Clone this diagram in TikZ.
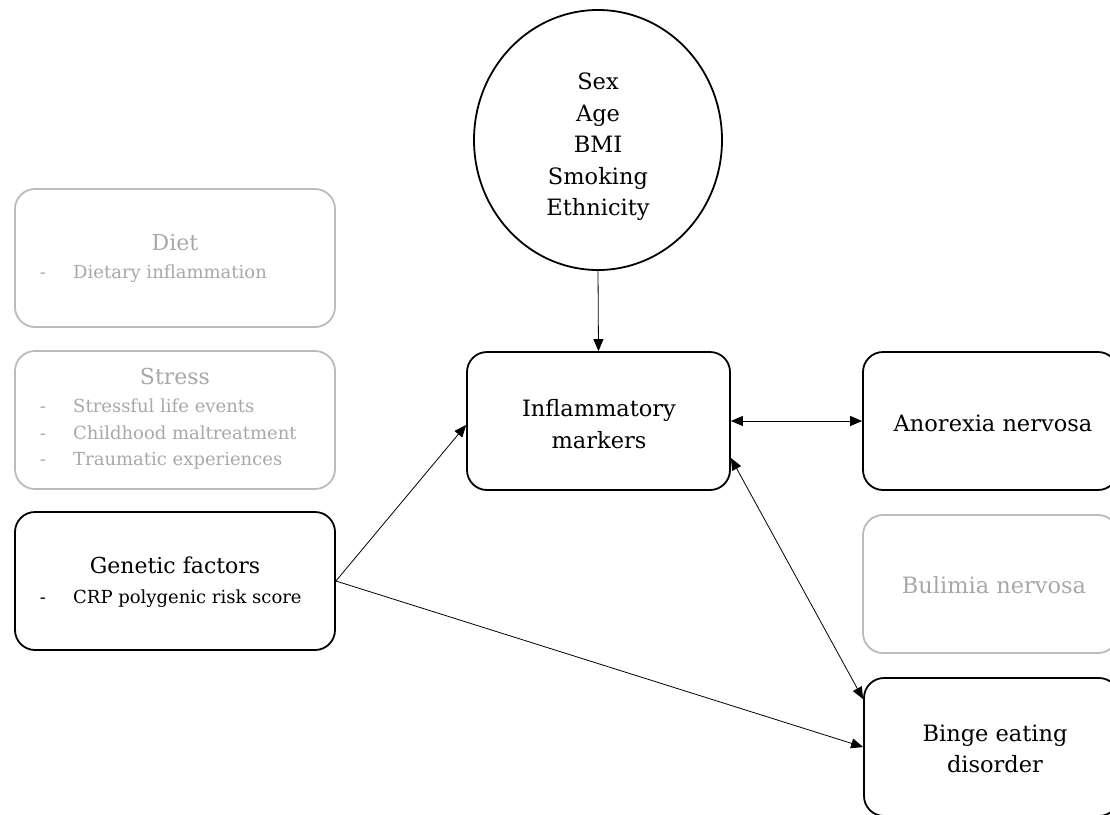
\documentclass[tikz,border=0pt]{standalone}
\usepackage{fontspec}
\setmainfont{DejaVu Serif}
\usetikzlibrary{arrows.meta,calc,shapes.geometric}
\definecolor{fadetext}{HTML}{A8A8A8}
\definecolor{fadeline}{HTML}{BBBBBB}
\begin{document}
\begin{tikzpicture}[x=1pt,y=-1pt,
  box/.style={draw=black,line width=1.8pt,rounded corners=20pt,
    minimum width=#1,minimum height=138pt,inner sep=0pt},
  fadebox/.style={box=#1,draw=fadeline},
  bigtext/.style={font=\fontsize{22.5}{31.5}\selectfont,align=center,inner sep=0pt},
  smalltext/.style={font=\fontsize{18}{27}\selectfont,inner sep=0pt,
    text height=0.72em,text depth=0.22em},
  titletext/.style={font=\fontsize{22}{31}\selectfont,inner sep=0pt,
    text height=0.72em,text depth=0.22em},
  faded/.style={text=fadetext},
  link/.style={line width=0.8pt,-{Triangle[length=12pt,width=10pt]}},
  twoway/.style={line width=0.8pt,{Triangle[length=12pt,width=10pt]}-{Triangle[length=12pt,width=10pt]}}]
\useasboundingbox (0,0) rectangle (1110,814);
\clip (0,0) rectangle (1110,814);

% covariates
\node[draw=black,line width=1.8pt,ellipse,minimum width=248pt,minimum height=260pt,
  inner sep=0pt] (cov) at (598,140) {};
\node[bigtext] (covtext) at (598,147) {Sex\\Age\\BMI\\Smoking\\Ethnicity};

% exposures on the left
\node[fadebox=320pt] (diet) at (175,258) {};
\node[titletext,faded] (diettitle) at (175,248) {Diet};
\node[smalltext,faded] (dietdash) at (43,276) {-};
\node[smalltext,faded,anchor=west] (dietitem) at (73,276) {Dietary inflammation};

\node[fadebox=320pt] (stress) at (175,420) {};
\node[titletext,faded] (stresstitle) at (175,382) {Stress};
\node[smalltext,faded] (stressdasha) at (43,410) {-};
\node[smalltext,faded,anchor=west] (stressa) at (73,410) {Stressful life events};
\node[smalltext,faded] (stressdashb) at (43,437) {-};
\node[smalltext,faded,anchor=west] (stressb) at (73,437) {Childhood maltreatment};
\node[smalltext,faded] (stressdashc) at (43,463) {-};
\node[smalltext,faded,anchor=west] (stressc) at (73,463) {Traumatic experiences};

\node[box=320pt] (gen) at (175,581) {};
\node[titletext] (gentitle) at (175,571) {Genetic factors};
\node[smalltext] (gendash) at (43,601) {-};
\node[smalltext,anchor=west] (genitem) at (73,601) {CRP polygenic risk score};

% mediator
\node[box=263pt] (infl) at (598.5,421) {};
\node[bigtext] (infltext) at (599,424) {Inflammatory\\markers};

% outcomes on the right
\node[box=255pt] (ano) at (990.5,421) {};
\node[bigtext] (anotext) at (993,423) {Anorexia nervosa};
\node[fadebox=255pt] (bul) at (990.5,584) {};
\node[bigtext,faded] (bultext) at (994,585) {Bulimia nervosa};
\node[box=255pt] (binge) at (991.5,747) {};
\node[bigtext] (bingetext) at (995,749) {Binge eating\\disorder};

% paths
\draw[link] (cov.south) -- (infl.north);
\draw[link] (gen.east) -- ($(infl.west)+(0,4)$);
\draw[link] (gen.east) -- (binge.west);
\draw[twoway] (infl.east) -- (ano.west);
\draw[twoway] ($(infl.east)+(0,37)$) -- ($(binge.north west)+(0,22)$);
\end{tikzpicture}
\end{document}
